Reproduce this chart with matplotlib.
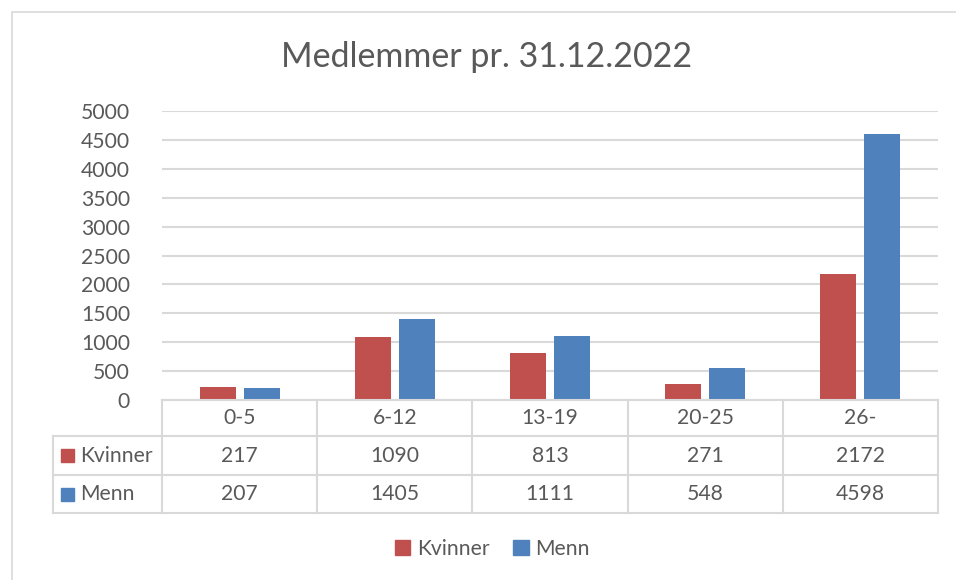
import numpy as np
import matplotlib.pyplot as plt
from matplotlib.patches import Rectangle, Patch
from matplotlib.transforms import blended_transform_factory

# Data
categories = ['0-5', '6-12', '13-19', '20-25', '26-']
kvinner = [217, 1090, 813, 271, 2172]
menn = [207, 1405, 1111, 548, 4598]
series = ['Kvinner', 'Menn']
colors = ['#C0504D', '#4F81BD']
yticks = [0, 500, 1000, 1500, 2000, 2500, 3000, 3500, 4000, 4500, 5000]

txt = '#595959'
grid = '#D9D9D9'
fs = 15.2
plt.rcParams['font.family'] = ['Lato', 'DejaVu Sans']

W, H = 956, 580
fig = plt.figure(figsize=(W / 100, H / 100), dpi=100)

def fx(px):
    return px / W

def fy(py):
    return 1 - py / H

# outer chart frame
fig.patches.append(Rectangle((fx(12), fy(600)), fx(1000), fy(12) - fy(600),
                             transform=fig.transFigure, fill=False,
                             edgecolor=grid, lw=1.2))

ax = fig.add_axes([fx(162), fy(400), fx(938) - fx(162), fy(111) - fy(400)])
x = np.arange(len(categories)) + 0.5
bw = 0.232
ax.bar(x - 0.142, kvinner, bw, color=colors[0], label=series[0])
ax.bar(x + 0.142, menn, bw, color=colors[1], label=series[1])

ax.set_xlim(0, len(categories))
ax.set_ylim(0, 5000)
ax.set_yticks(yticks)
ax.tick_params(axis='y', length=0, pad=23, labelsize=fs, labelcolor=txt)
ax.set_xticks([])
ax.grid(axis='y', color=grid, lw=1.5)
ax.set_axisbelow(True)
for s in ax.spines.values():
    s.set_visible(False)

fig.text(0.5 + fx(9), fy(57), 'Medlemmer pr. 31.12.2022', ha='center', va='center',
         fontsize=24.5, color=txt)

# data table below axis
tr = blended_transform_factory(ax.transData, fig.transFigure)
rows_y = [400, 436, 475, 513]
lk = dict(color=grid, lw=1.5, clip_on=False)
ax.plot([0, 5], [fy(400)] * 2, transform=tr, **lk)
for yy in rows_y[1:]:
    fig.add_artist(plt.Line2D([fx(53), fx(938)], [fy(yy)] * 2, transform=fig.transFigure, **lk))
fig.add_artist(plt.Line2D([fx(53)] * 2, [fy(436), fy(513)], transform=fig.transFigure, **lk))
for i in range(len(categories) + 1):
    ax.plot([i, i], [fy(400), fy(513)], transform=tr, **lk)

mid = [(rows_y[k] + rows_y[k + 1]) / 2 for k in range(3)]
for i, c in enumerate(categories):
    ax.text(x[i], fy(mid[0]), c, transform=tr, ha='center', va='center',
            fontsize=fs, color=txt)
    ax.text(x[i], fy(mid[1]), str(kvinner[i]), transform=tr, ha='center', va='center',
            fontsize=fs, color=txt)
    ax.text(x[i], fy(mid[2]), str(menn[i]), transform=tr, ha='center', va='center',
            fontsize=fs, color=txt)

for k, (name, col) in enumerate(zip(series, colors)):
    yc = mid[k + 1]
    fig.patches.append(Rectangle((fx(61), fy(yc + 6.5)), fx(13), fy(yc - 6.5) - fy(yc + 6.5),
                                 transform=fig.transFigure, color=col))
    fig.text(fx(80), fy(yc), name, ha='left', va='center', fontsize=fs, color=txt)

handles = [Patch(color=c, label=s) for s, c in zip(series, colors)]
fig.legend(handles=handles, loc='center', bbox_to_anchor=(fx(492), fy(549)), ncol=2,
           frameon=False, fontsize=fs, labelcolor=txt, handlelength=0.75,
           handleheight=0.75, handletextpad=0.3, columnspacing=1.1)

fig.savefig('out.png', dpi=100)
